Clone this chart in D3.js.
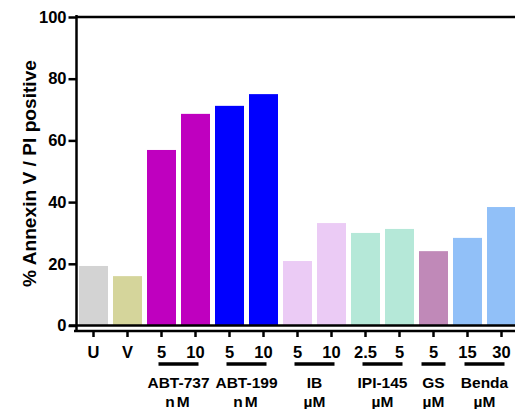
<!DOCTYPE html>
<html>
<head>
<meta charset="utf-8">
<script src="https://cdn.jsdelivr.net/npm/d3@7"></script>
<style>
body { margin: 0; background: #fff; }
svg { display: block; font-family: "Liberation Sans", Arial, sans-serif; font-weight: bold; }
</style>
</head>
<body>
<div id="vis"></div>
<script>
var categories = ['U', 'V', 'ABT-737 5', 'ABT-737 10', 'ABT-199 5', 'ABT-199 10', 'IB 5', 'IB 10',
    'IPI-145 2.5', 'IPI-145 5', 'GS 5', 'Benda 15', 'Benda 30'];
var tickLabels = ['U', 'V', '5', '10', '5', '10', '5', '10', '2.5', '5', '5', '15', '30'];
var values = [19.3, 16.0, 56.9, 68.6, 71.2, 75.0, 20.9, 33.2, 30.0, 31.3, 24.1, 28.4, 38.4];
var barGroup = ['U', 'V', 'ABT-737', 'ABT-737', 'ABT-199', 'ABT-199', 'IB', 'IB',
    'IPI-145', 'IPI-145', 'GS', 'Benda', 'Benda'];
var groupNames = ['ABT-737', 'ABT-199', 'IB', 'IPI-145', 'GS', 'Benda'];
var groupUnits = ['nM', 'nM', 'µM', 'µM', 'µM', 'µM'];
var yTicks = [0, 20, 40, 60, 80, 100];

var colors = {
    'U': '#d3d3d3', 'V': '#d5d59b', 'ABT-737': '#bf00bf', 'ABT-199': '#0000ff',
    'IB': '#ebcbf5', 'IPI-145': '#b5e8d8', 'GS': '#c089b8', 'Benda': '#91c0f8'
};

var width = 515, height = 409;

var svg = d3.select('#vis')
    .append('svg')
        .attr('width', width)
        .attr('height', height);

var x = d3.scaleBand()
    .domain(categories)
    .range([76.5, 518.5])
    .paddingInner(5 / 34)
    .paddingOuter(5 / 68);

var y = d3.scaleLinear()
    .domain([0, 100])
    .range([325.5, 17]);

// bars
svg.selectAll('.bar')
    .data(values)
    .enter()
    .append('rect')
    .attr('class', 'bar')
    .attr('x', function(d, i){ return x(categories[i]); })
    .attr('width', x.bandwidth())
    .attr('y', function(d){ return y(d); })
    .attr('height', function(d){ return y(0) - y(d); })
    .attr('fill', function(d, i){ return colors[barGroup[i]]; });

// frame lines: top at 100, baseline at 0
svg.append('line')
    .attr('x1', 76).attr('x2', width)
    .attr('y1', y(100)).attr('y2', y(100))
    .attr('stroke', '#000').attr('stroke-width', 2.5);

svg.append('line')
    .attr('x1', 69).attr('x2', width)
    .attr('y1', y(0)).attr('y2', y(0))
    .attr('stroke', '#000').attr('stroke-width', 2.5);

// y axis
var yAxis = svg.append('g')
    .attr('transform', 'translate(76.5,0)')
    .call(d3.axisLeft(y).tickValues(yTicks).tickSize(8).tickPadding(2).tickSizeOuter(0));
yAxis.select('.domain')
    .attr('d', 'M0,15V332')
    .attr('stroke-width', 2.5);
yAxis.selectAll('.tick line').attr('stroke-width', 2.5);
yAxis.selectAll('.tick text')
    .attr('font-size', 16.5)
    .attr('font-weight', 'bold')
    .attr('font-family', '"Liberation Sans", Arial, sans-serif')
    .attr('fill', '#000');

// x axis (offset below the zero line)
var xAxis = svg.append('g')
    .attr('transform', 'translate(0,331)')
    .call(d3.axisBottom(x).tickSize(6).tickSizeOuter(0).tickPadding(5)
        .tickFormat(function(d, i){ return tickLabels[i]; }));
xAxis.select('.domain')
    .attr('d', 'M74,0H' + width)
    .attr('stroke-width', 2.5);
xAxis.selectAll('.tick line').attr('stroke-width', 2.5);
xAxis.selectAll('.tick text')
    .attr('y', 26.5)
    .attr('dy', null)
    .attr('font-size', 16.5)
    .attr('font-weight', 'bold')
    .attr('font-family', '"Liberation Sans", Arial, sans-serif')
    .attr('fill', '#000');

// group underlines and labels
groupNames.forEach(function(g, k){
    var idx = [];
    barGroup.forEach(function(b, i){ if(b == g) idx.push(i); });
    var c0 = x(categories[idx[0]]) + x.bandwidth() / 2;
    var c1 = x(categories[idx[idx.length - 1]]) + x.bandwidth() / 2;
    var pad = idx.length > 1 ? 3 : 12;
    svg.append('line')
        .attr('x1', c0 - pad).attr('x2', c1 + pad)
        .attr('y1', 364).attr('y2', 364)
        .attr('stroke', '#000').attr('stroke-width', 3.5);
    var mid = (c0 + c1) / 2;
    svg.append('text')
        .attr('x', mid).attr('y', 388)
        .attr('text-anchor', 'middle')
        .attr('font-size', 15.5)
        .text(g);
    svg.append('text')
        .attr('x', mid).attr('y', 407)
        .attr('text-anchor', 'middle')
        .attr('font-size', 15.5)
        .attr('letter-spacing', groupUnits[k] == 'nM' ? 2 : 0)
        .text(groupUnits[k]);
});

// y title
svg.append('text')
    .attr('transform', 'translate(36,173.5) rotate(-90)')
    .attr('text-anchor', 'middle')
    .attr('font-size', 17.5)
    .attr('textLength', 227)
    .attr('lengthAdjust', 'spacingAndGlyphs')
    .text('% Annexin V / PI positive');
</script>
</body>
</html>
